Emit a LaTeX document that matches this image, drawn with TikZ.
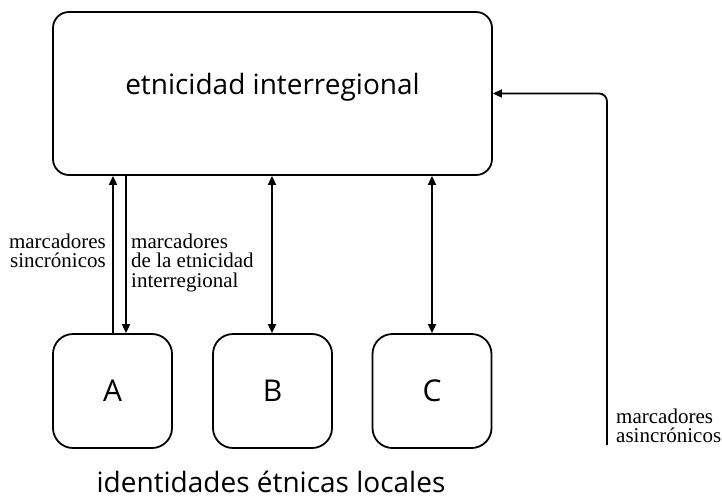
\documentclass[tikz,border=0pt]{standalone}
\usepackage{fontspec}
\setmainfont{Liberation Serif}
\newfontfamily\sansf{Open Sans}
\usetikzlibrary{arrows.meta}
\tikzset{
  bigbox/.style={draw, line width=1.8pt, rounded corners=16pt, inner sep=0pt},
  smallbox/.style={draw, line width=1.8pt, rounded corners=20pt, inner sep=0pt,
    minimum width=119pt, minimum height=114pt, font=\sansf\fontsize{30}{36}\selectfont},
  conn/.style={line width=1.8pt, arrows={-Triangle[length=9pt,width=8pt]}},
  bconn/.style={line width=1.8pt, arrows={Triangle[length=9pt,width=8pt]-Triangle[length=9pt,width=8pt]}},
  bigtext/.style={font=\sansf\fontsize{28}{34}\selectfont, inner sep=0pt},
  lbl/.style={font=\fontsize{21}{19.5}\selectfont, inner sep=0pt}
}
\begin{document}
\begin{tikzpicture}[x=1pt,y=-1pt]
\useasboundingbox (0,0) rectangle (722,499);
\node[bigbox, minimum width=439pt, minimum height=163pt] (big) at (272.5,93.5) {};
\node[bigtext, anchor=base] (title) at (272.5,94) {etnicidad interregional};
\node[smallbox] (A) at (112.5,391) {A};
\node[smallbox] (B) at (272.5,391) {B};
\node[smallbox] (C) at (432,391) {C};
\node[bigtext, anchor=base] (local) at (271,492.5) {identidades étnicas locales};
\coordinate (xa1) at (113,0);
\coordinate (xa2) at (126,0);
\coordinate (xb) at (272,0);
\coordinate (xc) at (432,0);
\coordinate (asin) at (607,445);
\draw[conn] (A.north -| xa1) -- (big.south -| xa1);
\draw[conn] (big.south -| xa2) -- (A.north -| xa2);
\draw[bconn] (big.south -| xb) -- (B.north -| xb);
\draw[bconn] (big.south -| xc) -- (C.north -| xc);
\draw[conn, rounded corners=8pt] (asin) |- (big.east);
\node[lbl, anchor=north east, align=right] (sinc) at (106,233.7) {marcadores\\sincrónicos};
\node[lbl, anchor=north west, align=left] (inter) at (131,233.7) {marcadores\\de la etnicidad\\interregional};
\node[lbl, anchor=north west, align=left] (asinc) at (616,408.7) {marcadores\\asincrónicos};
\end{tikzpicture}
\end{document}
